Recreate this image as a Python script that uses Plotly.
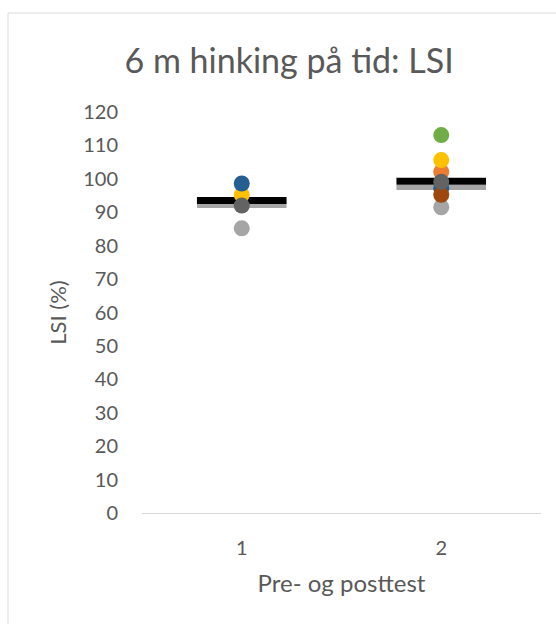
import plotly.graph_objects as go

# Test occasions (pre = 1, post = 2)
occasions = [1, 2]
tick_labels = ["1", "2"]

# LSI (%) per participant at each occasion; None = not shown
p_blue = [98.6, 97.2]
p_orange = [None, 102.1]
p_green = [None, 113.1]
p_yellow = [95.2, 105.6]
p_brown = [None, 95.2]
p_lightgray = [85.2, 91.5]
p_darkgray = [92.0, 99.1]

# Group summary dashes
group_mean = [93.5, 99.3]
group_median = [92.0, 97.4]

y_ticks = list(range(0, 121, 10))

FONT = "Lato, 'Open Sans', sans-serif"
TXT = "#595959"

fig = go.Figure()

# Summary dashes drawn first so the participant dots sit on top
fig.add_trace(go.Scatter(
    x=occasions, y=group_median, mode="markers", name="Median",
    marker=dict(symbol="line-ew", size=64, line=dict(color="#A5A5A5", width=5)),
))
fig.add_trace(go.Scatter(
    x=occasions, y=group_mean, mode="markers", name="Gjennomsnitt",
    marker=dict(symbol="line-ew", size=64, line=dict(color="#000000", width=7)),
))

participants = [
    ("Deltaker 2", p_orange, "#ED7D31"),
    ("Deltaker 3", p_lightgray, "#A5A5A5"),
    ("Deltaker 4", p_yellow, "#FFC000"),
    ("Deltaker 6", p_green, "#70AD47"),
    ("Deltaker 7", p_blue, "#255E91"),
    ("Deltaker 8", p_brown, "#9E480E"),
    ("Deltaker 9", p_darkgray, "#636363"),
]
for name, vals, col in participants:
    fig.add_trace(go.Scatter(
        x=occasions, y=vals, mode="markers", name=name,
        marker=dict(symbol="circle", size=16, color=col, line=dict(width=0)),
    ))

fig.update_layout(
    width=556, height=624,
    margin=dict(l=142, r=15, t=112, b=111),
    paper_bgcolor="white", plot_bgcolor="white",
    showlegend=False,
    font=dict(family=FONT, color=TXT, size=20),
    title=dict(
        text="6 m hinking på tid: LSI",
        x=0.52, xanchor="center", y=1 - 61 / 624, yanchor="middle",
        font=dict(family=FONT, size=34, color=TXT),
    ),
    xaxis=dict(
        range=[0.5, 2.5], tickmode="array", tickvals=occasions, ticktext=tick_labels,
        showgrid=False, zeroline=False, showline=False,
        ticks="outside", ticklen=17, tickcolor="rgba(0,0,0,0)",
        tickfont=dict(size=20, color=TXT),
        title=dict(text="Pre- og posttest", font=dict(size=24, color=TXT), standoff=17),
    ),
    yaxis=dict(
        range=[0, 120], tickmode="array", tickvals=y_ticks,
        showgrid=False, zeroline=True, zerolinecolor="#D9D9D9", zerolinewidth=1,
        showline=False,
        ticks="outside", ticklen=19, tickcolor="rgba(0,0,0,0)",
        tickfont=dict(size=20, color=TXT),
        title=dict(text="LSI (%)", font=dict(size=22, color=TXT), standoff=10),
    ),
    shapes=[
        dict(type="rect", xref="paper", yref="paper",
             x0=(8 - 142) / 399, x1=2.0, y0=-1.0, y1=(513 - 13) / 401,
             line=dict(color="#D9D9D9", width=1), fillcolor="rgba(0,0,0,0)",
             layer="below"),
    ],
)

fig.write_html("out.html")
